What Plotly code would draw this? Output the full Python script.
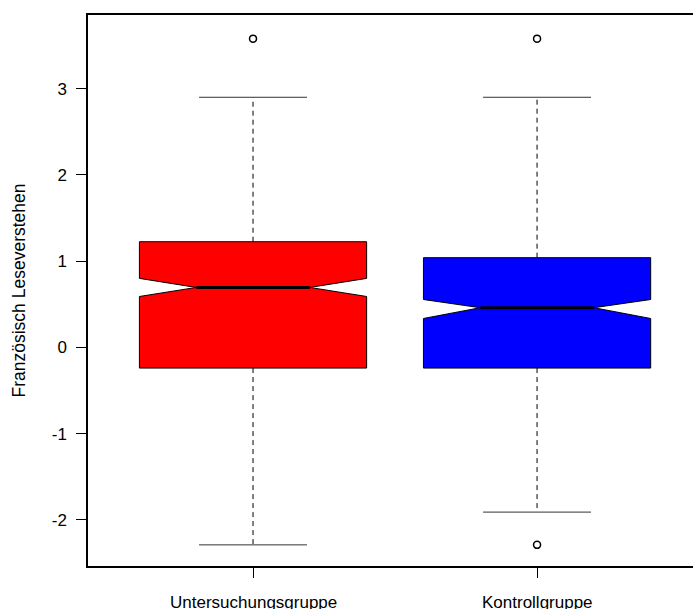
import plotly.graph_objects as go

# ---- data ----
groups = ["Untersuchungsgruppe", "Kontrollgruppe"]
positions = [1, 2]
colors = ["#FF0000", "#0000FF"]
q1 = [-0.24, -0.24]
q3 = [1.225, 1.04]
median = [0.695, 0.46]
notch_lo = [0.59, 0.335]
notch_hi = [0.80, 0.555]
whisker_lo = [-2.29, -1.91]
whisker_hi = [2.90, 2.90]
outliers = [[3.58], [3.58, -2.29]]
y_ticks = [-2, -1, 0, 1, 2, 3]

FONT = "Liberation Sans, Arial, sans-serif"
HW = 0.4      # half box width
NW = 0.2      # half notch width
CW = 0.19     # half cap width

fig = go.Figure()
for i, p in enumerate(positions):
    xs = [p - HW, p + HW, p + HW, p + NW, p + HW, p + HW, p - HW, p - HW, p - NW, p - HW, p - HW]
    ys = [q1[i], q1[i], notch_lo[i], median[i], notch_hi[i], q3[i], q3[i], notch_hi[i], median[i], notch_lo[i], q1[i]]
    # whiskers (dashed)
    fig.add_trace(go.Scatter(x=[p, p], y=[q3[i], whisker_hi[i]], mode="lines",
                             line=dict(color="black", width=1, dash="5px,4px"), hoverinfo="skip"))
    fig.add_trace(go.Scatter(x=[p, p], y=[q1[i], whisker_lo[i]], mode="lines",
                             line=dict(color="black", width=1, dash="5px,4px"), hoverinfo="skip"))
    # caps
    for w in (whisker_hi[i], whisker_lo[i]):
        fig.add_trace(go.Scatter(x=[p - CW, p + CW], y=[w, w], mode="lines",
                                 line=dict(color="#333333", width=1), hoverinfo="skip"))
    # box
    fig.add_trace(go.Scatter(x=xs, y=ys, mode="lines", fill="toself", fillcolor=colors[i],
                             line=dict(color="black", width=1), hoverinfo="skip"))
    # median
    fig.add_trace(go.Scatter(x=[p - NW, p + NW], y=[median[i], median[i]], mode="lines",
                             line=dict(color="black", width=3), hoverinfo="skip"))
    # outliers
    fig.add_trace(go.Scatter(x=[p] * len(outliers[i]), y=outliers[i], mode="markers",
                             marker=dict(symbol="circle-open", size=7, color="black",
                                         line=dict(width=1.5, color="black")),
                             hoverinfo="skip"))

annotations = [
    dict(x=p, y=0, xref="x", yref="paper", text=g, showarrow=False, yanchor="top",
         yshift=-25, font=dict(family=FONT, size=17, color="black"))
    for p, g in zip(positions, groups)
]
annotations.append(dict(x=0, y=0.5, xref="paper", yref="paper", text="Französisch Leseverstehen",
                        showarrow=False, textangle=-90, xanchor="center", yanchor="middle",
                        xshift=-70, font=dict(family=FONT, size=17.5, color="black")))

fig.update_layout(
    width=693, height=609,
    margin=dict(l=88, r=0, t=15, b=43),
    plot_bgcolor="white", paper_bgcolor="white",
    showlegend=False,
    annotations=annotations,
    xaxis=dict(range=[0.419, 2.549], tickvals=positions, ticktext=["", ""],
               ticks="outside", ticklen=10, tickcolor="black", tickwidth=1,
               showline=True, linecolor="black", linewidth=1.5, mirror=True,
               showgrid=False, zeroline=False, fixedrange=True, automargin=False),
    yaxis=dict(range=[-2.535, 3.854], tickvals=y_ticks, ticktext=[str(v) for v in y_ticks],
               ticks="outside", ticklen=10, tickcolor="black", tickwidth=1,
               showline=True, linecolor="black", linewidth=1.5, mirror=False,
               showgrid=False, zeroline=False, ticklabelstandoff=6, automargin=False,
               tickfont=dict(family=FONT, size=17, color="black"), fixedrange=True),
)

fig.write_html("out.html", config={"displayModeBar": False},
               post_script="document.body.style.margin='0';document.body.style.overflow='hidden';")
